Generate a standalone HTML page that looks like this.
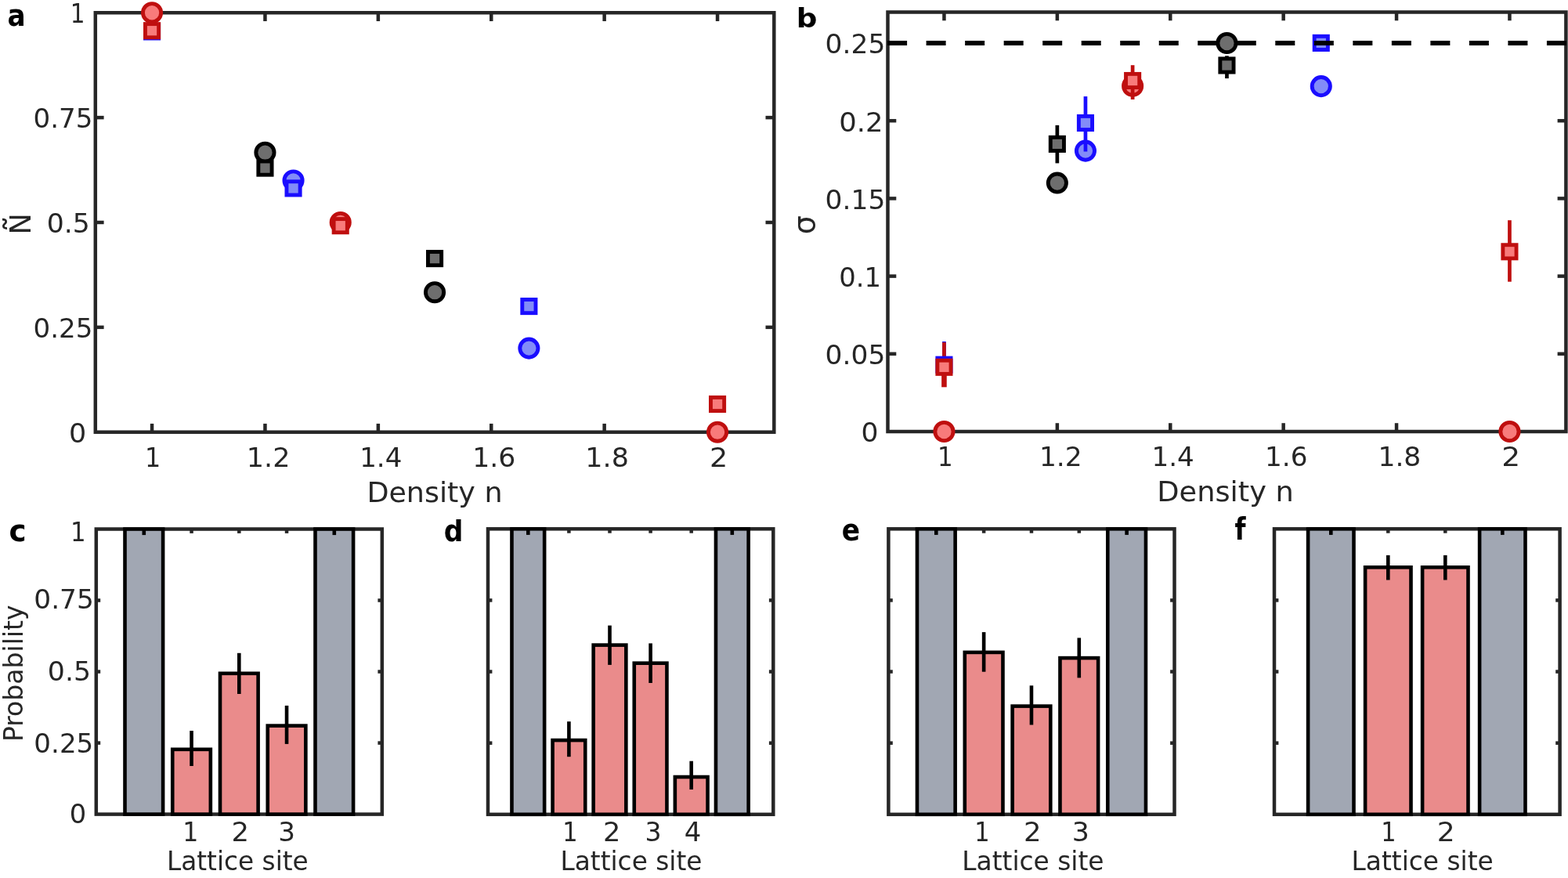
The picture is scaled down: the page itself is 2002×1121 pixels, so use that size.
<!DOCTYPE html>
<html><head><meta charset="utf-8"><title>Figure</title>
<style>html,body{margin:0;padding:0;background:#fff;}svg{display:block;}text{font-family:'DejaVu Sans','Liberation Sans',sans-serif;}</style>
</head><body>
<svg width="2002" height="1121" viewBox="0 0 2002 1121">
<rect width="2002" height="1121" fill="#fff"/>
<rect x="121.8" y="16.25" width="866.5" height="535.45" fill="none" stroke="#262626" stroke-width="4.5" stroke-linejoin="miter"/>
<line x1="194.05" y1="551.7" x2="194.05" y2="540.9" stroke="#262626" stroke-width="4.5" stroke-linecap="butt"/>
<line x1="194.05" y1="16.25" x2="194.05" y2="27.05" stroke="#262626" stroke-width="4.5" stroke-linecap="butt"/>
<line x1="338.45" y1="551.7" x2="338.45" y2="540.9" stroke="#262626" stroke-width="4.5" stroke-linecap="butt"/>
<line x1="338.45" y1="16.25" x2="338.45" y2="27.05" stroke="#262626" stroke-width="4.5" stroke-linecap="butt"/>
<line x1="482.85" y1="551.7" x2="482.85" y2="540.9" stroke="#262626" stroke-width="4.5" stroke-linecap="butt"/>
<line x1="482.85" y1="16.25" x2="482.85" y2="27.05" stroke="#262626" stroke-width="4.5" stroke-linecap="butt"/>
<line x1="627.25" y1="551.7" x2="627.25" y2="540.9" stroke="#262626" stroke-width="4.5" stroke-linecap="butt"/>
<line x1="627.25" y1="16.25" x2="627.25" y2="27.05" stroke="#262626" stroke-width="4.5" stroke-linecap="butt"/>
<line x1="771.65" y1="551.7" x2="771.65" y2="540.9" stroke="#262626" stroke-width="4.5" stroke-linecap="butt"/>
<line x1="771.65" y1="16.25" x2="771.65" y2="27.05" stroke="#262626" stroke-width="4.5" stroke-linecap="butt"/>
<line x1="916.05" y1="551.7" x2="916.05" y2="540.9" stroke="#262626" stroke-width="4.5" stroke-linecap="butt"/>
<line x1="916.05" y1="16.25" x2="916.05" y2="27.05" stroke="#262626" stroke-width="4.5" stroke-linecap="butt"/>
<line x1="121.8" y1="417.84" x2="132.6" y2="417.84" stroke="#262626" stroke-width="4.5" stroke-linecap="butt"/>
<line x1="988.3" y1="417.84" x2="977.5" y2="417.84" stroke="#262626" stroke-width="4.5" stroke-linecap="butt"/>
<line x1="121.8" y1="283.98" x2="132.6" y2="283.98" stroke="#262626" stroke-width="4.5" stroke-linecap="butt"/>
<line x1="988.3" y1="283.98" x2="977.5" y2="283.98" stroke="#262626" stroke-width="4.5" stroke-linecap="butt"/>
<line x1="121.8" y1="150.11" x2="132.6" y2="150.11" stroke="#262626" stroke-width="4.5" stroke-linecap="butt"/>
<line x1="988.3" y1="150.11" x2="977.5" y2="150.11" stroke="#262626" stroke-width="4.5" stroke-linecap="butt"/>
<text x="89.86" y="28.9" font-size="33" fill="#262626" textLength="18.76" lengthAdjust="spacingAndGlyphs">1</text>
<text x="42.62" y="163" font-size="33" fill="#262626" textLength="75.85" lengthAdjust="spacingAndGlyphs">0.75</text>
<text x="59.72" y="297.2" font-size="33" fill="#262626" textLength="55.11" lengthAdjust="spacingAndGlyphs">0.5</text>
<text x="42.62" y="430.9" font-size="33" fill="#262626" textLength="75.85" lengthAdjust="spacingAndGlyphs">0.25</text>
<text x="88" y="565" font-size="33" fill="#262626" textLength="22.22" lengthAdjust="spacingAndGlyphs">0</text>
<text x="184.91" y="595.5" font-size="33" fill="#262626" textLength="20.23" lengthAdjust="spacingAndGlyphs">1</text>
<text x="314.86" y="595.5" font-size="33" fill="#262626" textLength="55.65" lengthAdjust="spacingAndGlyphs">1.2</text>
<text x="459.16" y="595.5" font-size="33" fill="#262626" textLength="54.15" lengthAdjust="spacingAndGlyphs">1.4</text>
<text x="603.19" y="595.5" font-size="33" fill="#262626" textLength="55.09" lengthAdjust="spacingAndGlyphs">1.6</text>
<text x="747.36" y="595.5" font-size="33" fill="#262626" textLength="55.52" lengthAdjust="spacingAndGlyphs">1.8</text>
<text x="906.13" y="595.5" font-size="33" fill="#262626" textLength="23.23" lengthAdjust="spacingAndGlyphs">2</text>
<text x="468.42" y="641.2" font-size="36.3" fill="#262626" textLength="173.17" lengthAdjust="spacingAndGlyphs">Density n</text>
<text transform="translate(38.9,296) rotate(-90)" x="-3.59" y="0" font-size="36.6" fill="#262626">N<tspan x="21.39" y="-1.15" font-size="44">̃</tspan></text>
<circle cx="374.55" cy="230.43" r="11.6" fill="#828CF8" stroke="#1A0DFF" stroke-width="4.9"/>
<circle cx="675.38" cy="444.61" r="11.6" fill="#828CF8" stroke="#1A0DFF" stroke-width="4.9"/>
<rect x="185.45" y="31.8" width="17.2" height="17.2" fill="#828CF8" stroke="#1A0DFF" stroke-width="4.9"/>
<rect x="365.95" y="231.8" width="17.2" height="17.2" fill="#828CF8" stroke="#1A0DFF" stroke-width="4.9"/>
<rect x="666.78" y="382.47" width="17.2" height="17.2" fill="#828CF8" stroke="#1A0DFF" stroke-width="4.9"/>
<circle cx="338.45" cy="194.73" r="11.6" fill="#6E6E6E" stroke="#000000" stroke-width="4.9"/>
<circle cx="555.05" cy="373.22" r="11.6" fill="#6E6E6E" stroke="#000000" stroke-width="4.9"/>
<rect x="329.85" y="206" width="17.2" height="17.2" fill="#6E6E6E" stroke="#000000" stroke-width="4.9"/>
<rect x="546.45" y="321.5" width="17.2" height="17.2" fill="#6E6E6E" stroke="#000000" stroke-width="4.9"/>
<circle cx="194.05" cy="16.25" r="11.6" fill="#F87B7B" stroke="#BF0F0F" stroke-width="4.9"/>
<circle cx="434.72" cy="283.98" r="11.6" fill="#F87B7B" stroke="#BF0F0F" stroke-width="4.9"/>
<circle cx="916.05" cy="551.7" r="11.6" fill="#F87B7B" stroke="#BF0F0F" stroke-width="4.9"/>
<rect x="185.45" y="30.6" width="17.2" height="17.2" fill="#F87B7B" stroke="#BF0F0F" stroke-width="4.9"/>
<rect x="426.12" y="279.6" width="17.2" height="17.2" fill="#F87B7B" stroke="#BF0F0F" stroke-width="4.9"/>
<rect x="907.45" y="507.4" width="17.2" height="17.2" fill="#F87B7B" stroke="#BF0F0F" stroke-width="4.9"/>
<text x="9.42" y="32.96" font-size="38.49" fill="#000" textLength="23.18" lengthAdjust="spacingAndGlyphs" style="font-family:'DejaVu Sans','Liberation Sans',sans-serif;font-weight:bold">a</text>
<rect x="1133.5" y="15.5" width="865.9" height="535.5" fill="none" stroke="#262626" stroke-width="4.5" stroke-linejoin="miter"/>
<line x1="1205.45" y1="551" x2="1205.45" y2="540.2" stroke="#262626" stroke-width="4.5" stroke-linecap="butt"/>
<line x1="1205.45" y1="15.5" x2="1205.45" y2="26.3" stroke="#262626" stroke-width="4.5" stroke-linecap="butt"/>
<line x1="1349.85" y1="551" x2="1349.85" y2="540.2" stroke="#262626" stroke-width="4.5" stroke-linecap="butt"/>
<line x1="1349.85" y1="15.5" x2="1349.85" y2="26.3" stroke="#262626" stroke-width="4.5" stroke-linecap="butt"/>
<line x1="1494.25" y1="551" x2="1494.25" y2="540.2" stroke="#262626" stroke-width="4.5" stroke-linecap="butt"/>
<line x1="1494.25" y1="15.5" x2="1494.25" y2="26.3" stroke="#262626" stroke-width="4.5" stroke-linecap="butt"/>
<line x1="1638.65" y1="551" x2="1638.65" y2="540.2" stroke="#262626" stroke-width="4.5" stroke-linecap="butt"/>
<line x1="1638.65" y1="15.5" x2="1638.65" y2="26.3" stroke="#262626" stroke-width="4.5" stroke-linecap="butt"/>
<line x1="1783.05" y1="551" x2="1783.05" y2="540.2" stroke="#262626" stroke-width="4.5" stroke-linecap="butt"/>
<line x1="1783.05" y1="15.5" x2="1783.05" y2="26.3" stroke="#262626" stroke-width="4.5" stroke-linecap="butt"/>
<line x1="1927.45" y1="551" x2="1927.45" y2="540.2" stroke="#262626" stroke-width="4.5" stroke-linecap="butt"/>
<line x1="1927.45" y1="15.5" x2="1927.45" y2="26.3" stroke="#262626" stroke-width="4.5" stroke-linecap="butt"/>
<line x1="1133.5" y1="451.8" x2="1144.3" y2="451.8" stroke="#262626" stroke-width="4.5" stroke-linecap="butt"/>
<line x1="1999.4" y1="451.8" x2="1988.6" y2="451.8" stroke="#262626" stroke-width="4.5" stroke-linecap="butt"/>
<line x1="1133.5" y1="352.6" x2="1144.3" y2="352.6" stroke="#262626" stroke-width="4.5" stroke-linecap="butt"/>
<line x1="1999.4" y1="352.6" x2="1988.6" y2="352.6" stroke="#262626" stroke-width="4.5" stroke-linecap="butt"/>
<line x1="1133.5" y1="253.4" x2="1144.3" y2="253.4" stroke="#262626" stroke-width="4.5" stroke-linecap="butt"/>
<line x1="1999.4" y1="253.4" x2="1988.6" y2="253.4" stroke="#262626" stroke-width="4.5" stroke-linecap="butt"/>
<line x1="1133.5" y1="154.2" x2="1144.3" y2="154.2" stroke="#262626" stroke-width="4.5" stroke-linecap="butt"/>
<line x1="1999.4" y1="154.2" x2="1988.6" y2="154.2" stroke="#262626" stroke-width="4.5" stroke-linecap="butt"/>
<line x1="1133.5" y1="55" x2="1144.3" y2="55" stroke="#262626" stroke-width="4.5" stroke-linecap="butt"/>
<line x1="1999.4" y1="55" x2="1988.6" y2="55" stroke="#262626" stroke-width="4.5" stroke-linecap="butt"/>
<text x="1053.63" y="68.1" font-size="33" fill="#262626" textLength="76.68" lengthAdjust="spacingAndGlyphs">0.25</text>
<text x="1071.17" y="167.5" font-size="33" fill="#262626" textLength="56.27" lengthAdjust="spacingAndGlyphs">0.2</text>
<text x="1053.63" y="266.6" font-size="33" fill="#262626" textLength="76.68" lengthAdjust="spacingAndGlyphs">0.15</text>
<text x="1071.27" y="365.9" font-size="33" fill="#262626" textLength="53.75" lengthAdjust="spacingAndGlyphs">0.1</text>
<text x="1053.63" y="465" font-size="33" fill="#262626" textLength="76.68" lengthAdjust="spacingAndGlyphs">0.05</text>
<text x="1099.62" y="564" font-size="33" fill="#262626" textLength="21.97" lengthAdjust="spacingAndGlyphs">0</text>
<text x="1197.01" y="594.8" font-size="33" fill="#262626" textLength="19.64" lengthAdjust="spacingAndGlyphs">1</text>
<text x="1326.92" y="594.8" font-size="33" fill="#262626" textLength="54.72" lengthAdjust="spacingAndGlyphs">1.2</text>
<text x="1470.55" y="594.8" font-size="33" fill="#262626" textLength="54.26" lengthAdjust="spacingAndGlyphs">1.4</text>
<text x="1615.04" y="594.8" font-size="33" fill="#262626" textLength="54.41" lengthAdjust="spacingAndGlyphs">1.6</text>
<text x="1759.4" y="594.8" font-size="33" fill="#262626" textLength="54.96" lengthAdjust="spacingAndGlyphs">1.8</text>
<text x="1917.15" y="594.8" font-size="33" fill="#262626" textLength="23.92" lengthAdjust="spacingAndGlyphs">2</text>
<text x="1477.3" y="640.3" font-size="36.3" fill="#262626" textLength="174.52" lengthAdjust="spacingAndGlyphs">Density n</text>
<text transform="translate(1040.32,299.18) rotate(-90)" x="0" y="0" font-size="38" fill="#262626">σ</text>
<circle cx="1385.95" cy="192.6" r="11.6" fill="#828CF8" stroke="#1A0DFF" stroke-width="4.9"/>
<circle cx="1686.78" cy="110.1" r="11.6" fill="#828CF8" stroke="#1A0DFF" stroke-width="4.9"/>
<circle cx="1205.45" cy="551" r="11.6" fill="#F87B7B" stroke="#BF0F0F" stroke-width="4.9"/>
<circle cx="1446.12" cy="109.8" r="11.6" fill="#F87B7B" stroke="#BF0F0F" stroke-width="4.9"/>
<circle cx="1927.45" cy="551" r="11.6" fill="#F87B7B" stroke="#BF0F0F" stroke-width="4.9"/>
<line x1="1205.45" y1="436" x2="1205.45" y2="494" stroke="#1A0DFF" stroke-width="4.7" stroke-linecap="butt"/>
<line x1="1385.95" y1="123.1" x2="1385.95" y2="193.5" stroke="#1A0DFF" stroke-width="4.7" stroke-linecap="butt"/>
<line x1="1349.85" y1="159.9" x2="1349.85" y2="208.4" stroke="#000000" stroke-width="4.7" stroke-linecap="butt"/>
<line x1="1566.45" y1="71.3" x2="1566.45" y2="100.1" stroke="#000000" stroke-width="4.7" stroke-linecap="butt"/>
<line x1="1205.45" y1="437.1" x2="1205.45" y2="468.8" stroke="#BF0F0F" stroke-width="4.7" stroke-linecap="butt"/>
<line x1="1205.45" y1="468.8" x2="1205.45" y2="494.3" stroke="#BF0F0F" stroke-width="6.6" stroke-linecap="butt"/>
<line x1="1446.12" y1="83.2" x2="1446.12" y2="127" stroke="#BF0F0F" stroke-width="4.7" stroke-linecap="butt"/>
<line x1="1927.45" y1="281.2" x2="1927.45" y2="359.7" stroke="#BF0F0F" stroke-width="4.7" stroke-linecap="butt"/>
<rect x="1196.85" y="457.1" width="17.2" height="17.2" fill="#828CF8" stroke="#1A0DFF" stroke-width="4.9"/>
<rect x="1377.35" y="148.4" width="17.2" height="17.2" fill="#828CF8" stroke="#1A0DFF" stroke-width="4.9"/>
<rect x="1678.18" y="46.3" width="17.2" height="17.2" fill="#828CF8" stroke="#1A0DFF" stroke-width="4.9"/>
<line x1="1133.1" y1="55" x2="1999.8" y2="55" stroke="#000" stroke-width="6" stroke-dasharray="25 24.52"/>
<circle cx="1349.85" cy="233.56" r="11.6" fill="#6E6E6E" stroke="#000000" stroke-width="4.9"/>
<circle cx="1566.45" cy="55" r="11.6" fill="#6E6E6E" stroke="#000000" stroke-width="4.9"/>
<rect x="1341.25" y="175.3" width="17.2" height="17.2" fill="#6E6E6E" stroke="#000000" stroke-width="4.9"/>
<rect x="1557.85" y="74.9" width="17.2" height="17.2" fill="#6E6E6E" stroke="#000000" stroke-width="4.9"/>
<rect x="1196.85" y="460.2" width="17.2" height="17.2" fill="#F87B7B" stroke="#BF0F0F" stroke-width="4.9"/>
<rect x="1437.52" y="94.4" width="17.2" height="17.2" fill="#F87B7B" stroke="#BF0F0F" stroke-width="4.9"/>
<rect x="1918.85" y="312.7" width="17.2" height="17.2" fill="#F87B7B" stroke="#BF0F0F" stroke-width="4.9"/>
<text x="1016.87" y="35.21" font-size="34.37" fill="#000" textLength="26.71" lengthAdjust="spacingAndGlyphs" style="font-family:'DejaVu Sans','Liberation Sans',sans-serif;font-weight:bold">b</text>
<rect x="122.8" y="675.5" width="365" height="364.1" fill="none" stroke="#262626" stroke-width="4.5" stroke-linejoin="miter"/>
<line x1="122.8" y1="948.57" x2="128.2" y2="948.57" stroke="#262626" stroke-width="4.5" stroke-linecap="butt"/>
<line x1="487.8" y1="948.57" x2="482.4" y2="948.57" stroke="#262626" stroke-width="4.5" stroke-linecap="butt"/>
<line x1="122.8" y1="857.55" x2="128.2" y2="857.55" stroke="#262626" stroke-width="4.5" stroke-linecap="butt"/>
<line x1="487.8" y1="857.55" x2="482.4" y2="857.55" stroke="#262626" stroke-width="4.5" stroke-linecap="butt"/>
<line x1="122.8" y1="766.52" x2="128.2" y2="766.52" stroke="#262626" stroke-width="4.5" stroke-linecap="butt"/>
<line x1="487.8" y1="766.52" x2="482.4" y2="766.52" stroke="#262626" stroke-width="4.5" stroke-linecap="butt"/>
<line x1="183.8" y1="675.5" x2="183.8" y2="680.9" stroke="#262626" stroke-width="4.5" stroke-linecap="butt"/>
<line x1="183.8" y1="1039.6" x2="183.8" y2="1034.2" stroke="#262626" stroke-width="4.5" stroke-linecap="butt"/>
<line x1="244.55" y1="675.5" x2="244.55" y2="680.9" stroke="#262626" stroke-width="4.5" stroke-linecap="butt"/>
<line x1="244.55" y1="1039.6" x2="244.55" y2="1034.2" stroke="#262626" stroke-width="4.5" stroke-linecap="butt"/>
<line x1="305.3" y1="675.5" x2="305.3" y2="680.9" stroke="#262626" stroke-width="4.5" stroke-linecap="butt"/>
<line x1="305.3" y1="1039.6" x2="305.3" y2="1034.2" stroke="#262626" stroke-width="4.5" stroke-linecap="butt"/>
<line x1="366.05" y1="675.5" x2="366.05" y2="680.9" stroke="#262626" stroke-width="4.5" stroke-linecap="butt"/>
<line x1="366.05" y1="1039.6" x2="366.05" y2="1034.2" stroke="#262626" stroke-width="4.5" stroke-linecap="butt"/>
<line x1="426.8" y1="675.5" x2="426.8" y2="680.9" stroke="#262626" stroke-width="4.5" stroke-linecap="butt"/>
<line x1="426.8" y1="1039.6" x2="426.8" y2="1034.2" stroke="#262626" stroke-width="4.5" stroke-linecap="butt"/>
<rect x="159.5" y="675.5" width="48.6" height="364.1" fill="#A1A7B3" stroke="#000" stroke-width="4.6"/>
<rect x="220.25" y="956.8" width="48.6" height="82.8" fill="#EA8B8B" stroke="#000" stroke-width="4.6"/>
<rect x="281" y="859.8" width="48.6" height="179.8" fill="#EA8B8B" stroke="#000" stroke-width="4.6"/>
<rect x="341.75" y="926.6" width="48.6" height="113" fill="#EA8B8B" stroke="#000" stroke-width="4.6"/>
<rect x="402.5" y="675.5" width="48.6" height="364.1" fill="#A1A7B3" stroke="#000" stroke-width="4.6"/>
<line x1="183.8" y1="675.5" x2="183.8" y2="683.1" stroke="#000" stroke-width="4.6" stroke-linecap="butt"/>
<line x1="426.8" y1="675.5" x2="426.8" y2="683.1" stroke="#000" stroke-width="4.6" stroke-linecap="butt"/>
<line x1="244.55" y1="933" x2="244.55" y2="978" stroke="#000" stroke-width="4.6" stroke-linecap="butt"/>
<line x1="305.3" y1="833.8" x2="305.3" y2="886" stroke="#000" stroke-width="4.6" stroke-linecap="butt"/>
<line x1="366.05" y1="900.9" x2="366.05" y2="949.9" stroke="#000" stroke-width="4.6" stroke-linecap="butt"/>
<text x="233.33" y="1074" font-size="33" fill="#262626" textLength="20.08" lengthAdjust="spacingAndGlyphs">1</text>
<text x="295.41" y="1074" font-size="33" fill="#262626" textLength="22.54" lengthAdjust="spacingAndGlyphs">2</text>
<text x="355.3" y="1074" font-size="33" fill="#262626" textLength="21.74" lengthAdjust="spacingAndGlyphs">3</text>
<text x="212.99" y="1111.2" font-size="32.8" fill="#262626" textLength="180.76" lengthAdjust="spacingAndGlyphs">Lattice site</text>
<text x="90.11" y="690.9" font-size="33" fill="#262626" textLength="19.64" lengthAdjust="spacingAndGlyphs">1</text>
<text x="43.34" y="777.4" font-size="33" fill="#262626" textLength="76.47" lengthAdjust="spacingAndGlyphs">0.75</text>
<text x="60.81" y="868.7" font-size="33" fill="#262626" textLength="55.22" lengthAdjust="spacingAndGlyphs">0.5</text>
<text x="43.35" y="960.5" font-size="33" fill="#262626" textLength="75.93" lengthAdjust="spacingAndGlyphs">0.25</text>
<text x="88.68" y="1051.4" font-size="33" fill="#262626" textLength="21.46" lengthAdjust="spacingAndGlyphs">0</text>
<text transform="translate(28.7,943.9) rotate(-90)" x="-3.22" y="0" font-size="32.8" fill="#262626" textLength="174.7" lengthAdjust="spacingAndGlyphs">Probability</text>
<text x="11.6" y="690.85" font-size="38.66" fill="#000" textLength="22.1" lengthAdjust="spacingAndGlyphs" style="font-family:'DejaVu Sans','Liberation Sans',sans-serif;font-weight:bold">c</text>
<rect x="623" y="675.3" width="364.3" height="364.5" fill="none" stroke="#262626" stroke-width="4.5" stroke-linejoin="miter"/>
<line x1="623" y1="948.67" x2="628.4" y2="948.67" stroke="#262626" stroke-width="4.5" stroke-linecap="butt"/>
<line x1="987.3" y1="948.67" x2="981.9" y2="948.67" stroke="#262626" stroke-width="4.5" stroke-linecap="butt"/>
<line x1="623" y1="857.55" x2="628.4" y2="857.55" stroke="#262626" stroke-width="4.5" stroke-linecap="butt"/>
<line x1="987.3" y1="857.55" x2="981.9" y2="857.55" stroke="#262626" stroke-width="4.5" stroke-linecap="butt"/>
<line x1="623" y1="766.42" x2="628.4" y2="766.42" stroke="#262626" stroke-width="4.5" stroke-linecap="butt"/>
<line x1="987.3" y1="766.42" x2="981.9" y2="766.42" stroke="#262626" stroke-width="4.5" stroke-linecap="butt"/>
<line x1="674.3" y1="675.3" x2="674.3" y2="680.7" stroke="#262626" stroke-width="4.5" stroke-linecap="butt"/>
<line x1="674.3" y1="1039.8" x2="674.3" y2="1034.4" stroke="#262626" stroke-width="4.5" stroke-linecap="butt"/>
<line x1="726.4" y1="675.3" x2="726.4" y2="680.7" stroke="#262626" stroke-width="4.5" stroke-linecap="butt"/>
<line x1="726.4" y1="1039.8" x2="726.4" y2="1034.4" stroke="#262626" stroke-width="4.5" stroke-linecap="butt"/>
<line x1="778.5" y1="675.3" x2="778.5" y2="680.7" stroke="#262626" stroke-width="4.5" stroke-linecap="butt"/>
<line x1="778.5" y1="1039.8" x2="778.5" y2="1034.4" stroke="#262626" stroke-width="4.5" stroke-linecap="butt"/>
<line x1="830.6" y1="675.3" x2="830.6" y2="680.7" stroke="#262626" stroke-width="4.5" stroke-linecap="butt"/>
<line x1="830.6" y1="1039.8" x2="830.6" y2="1034.4" stroke="#262626" stroke-width="4.5" stroke-linecap="butt"/>
<line x1="882.7" y1="675.3" x2="882.7" y2="680.7" stroke="#262626" stroke-width="4.5" stroke-linecap="butt"/>
<line x1="882.7" y1="1039.8" x2="882.7" y2="1034.4" stroke="#262626" stroke-width="4.5" stroke-linecap="butt"/>
<line x1="934.8" y1="675.3" x2="934.8" y2="680.7" stroke="#262626" stroke-width="4.5" stroke-linecap="butt"/>
<line x1="934.8" y1="1039.8" x2="934.8" y2="1034.4" stroke="#262626" stroke-width="4.5" stroke-linecap="butt"/>
<rect x="653.46" y="675.3" width="41.68" height="364.5" fill="#A1A7B3" stroke="#000" stroke-width="4.6"/>
<rect x="705.56" y="945.1" width="41.68" height="94.7" fill="#EA8B8B" stroke="#000" stroke-width="4.6"/>
<rect x="757.66" y="823.6" width="41.68" height="216.2" fill="#EA8B8B" stroke="#000" stroke-width="4.6"/>
<rect x="809.76" y="846.7" width="41.68" height="193.1" fill="#EA8B8B" stroke="#000" stroke-width="4.6"/>
<rect x="861.86" y="992" width="41.68" height="47.8" fill="#EA8B8B" stroke="#000" stroke-width="4.6"/>
<rect x="913.96" y="675.3" width="41.68" height="364.5" fill="#A1A7B3" stroke="#000" stroke-width="4.6"/>
<line x1="674.3" y1="675.3" x2="674.3" y2="682.9" stroke="#000" stroke-width="4.6" stroke-linecap="butt"/>
<line x1="934.8" y1="675.3" x2="934.8" y2="682.9" stroke="#000" stroke-width="4.6" stroke-linecap="butt"/>
<line x1="726.4" y1="921.2" x2="726.4" y2="966.2" stroke="#000" stroke-width="4.6" stroke-linecap="butt"/>
<line x1="778.5" y1="798.6" x2="778.5" y2="848.9" stroke="#000" stroke-width="4.6" stroke-linecap="butt"/>
<line x1="830.6" y1="821.4" x2="830.6" y2="872" stroke="#000" stroke-width="4.6" stroke-linecap="butt"/>
<line x1="882.7" y1="971.7" x2="882.7" y2="1008" stroke="#000" stroke-width="4.6" stroke-linecap="butt"/>
<text x="718.16" y="1073.9" font-size="33" fill="#262626" textLength="19.35" lengthAdjust="spacingAndGlyphs">1</text>
<text x="770.12" y="1073.9" font-size="33" fill="#262626" textLength="22.4" lengthAdjust="spacingAndGlyphs">2</text>
<text x="823.38" y="1073.9" font-size="33" fill="#262626" textLength="21.08" lengthAdjust="spacingAndGlyphs">3</text>
<text x="873.75" y="1073.9" font-size="33" fill="#262626" textLength="21.56" lengthAdjust="spacingAndGlyphs">4</text>
<text x="715.48" y="1111.2" font-size="32.8" fill="#262626" textLength="180.96" lengthAdjust="spacingAndGlyphs">Lattice site</text>
<text x="566.85" y="691.27" font-size="37.6" fill="#000" textLength="24.64" lengthAdjust="spacingAndGlyphs" style="font-family:'DejaVu Sans','Liberation Sans',sans-serif;font-weight:bold">d</text>
<rect x="1134.4" y="675.3" width="365.1" height="364.5" fill="none" stroke="#262626" stroke-width="4.5" stroke-linejoin="miter"/>
<line x1="1134.4" y1="948.67" x2="1139.8" y2="948.67" stroke="#262626" stroke-width="4.5" stroke-linecap="butt"/>
<line x1="1499.5" y1="948.67" x2="1494.1" y2="948.67" stroke="#262626" stroke-width="4.5" stroke-linecap="butt"/>
<line x1="1134.4" y1="857.55" x2="1139.8" y2="857.55" stroke="#262626" stroke-width="4.5" stroke-linecap="butt"/>
<line x1="1499.5" y1="857.55" x2="1494.1" y2="857.55" stroke="#262626" stroke-width="4.5" stroke-linecap="butt"/>
<line x1="1134.4" y1="766.42" x2="1139.8" y2="766.42" stroke="#262626" stroke-width="4.5" stroke-linecap="butt"/>
<line x1="1499.5" y1="766.42" x2="1494.1" y2="766.42" stroke="#262626" stroke-width="4.5" stroke-linecap="butt"/>
<line x1="1195.3" y1="675.3" x2="1195.3" y2="680.7" stroke="#262626" stroke-width="4.5" stroke-linecap="butt"/>
<line x1="1195.3" y1="1039.8" x2="1195.3" y2="1034.4" stroke="#262626" stroke-width="4.5" stroke-linecap="butt"/>
<line x1="1256.13" y1="675.3" x2="1256.13" y2="680.7" stroke="#262626" stroke-width="4.5" stroke-linecap="butt"/>
<line x1="1256.13" y1="1039.8" x2="1256.13" y2="1034.4" stroke="#262626" stroke-width="4.5" stroke-linecap="butt"/>
<line x1="1316.96" y1="675.3" x2="1316.96" y2="680.7" stroke="#262626" stroke-width="4.5" stroke-linecap="butt"/>
<line x1="1316.96" y1="1039.8" x2="1316.96" y2="1034.4" stroke="#262626" stroke-width="4.5" stroke-linecap="butt"/>
<line x1="1377.79" y1="675.3" x2="1377.79" y2="680.7" stroke="#262626" stroke-width="4.5" stroke-linecap="butt"/>
<line x1="1377.79" y1="1039.8" x2="1377.79" y2="1034.4" stroke="#262626" stroke-width="4.5" stroke-linecap="butt"/>
<line x1="1438.62" y1="675.3" x2="1438.62" y2="680.7" stroke="#262626" stroke-width="4.5" stroke-linecap="butt"/>
<line x1="1438.62" y1="1039.8" x2="1438.62" y2="1034.4" stroke="#262626" stroke-width="4.5" stroke-linecap="butt"/>
<rect x="1170.97" y="675.3" width="48.66" height="364.5" fill="#A1A7B3" stroke="#000" stroke-width="4.6"/>
<rect x="1231.8" y="832.9" width="48.66" height="206.9" fill="#EA8B8B" stroke="#000" stroke-width="4.6"/>
<rect x="1292.63" y="901.6" width="48.66" height="138.2" fill="#EA8B8B" stroke="#000" stroke-width="4.6"/>
<rect x="1353.46" y="840.1" width="48.66" height="199.7" fill="#EA8B8B" stroke="#000" stroke-width="4.6"/>
<rect x="1414.29" y="675.3" width="48.66" height="364.5" fill="#A1A7B3" stroke="#000" stroke-width="4.6"/>
<line x1="1195.3" y1="675.3" x2="1195.3" y2="682.9" stroke="#000" stroke-width="4.6" stroke-linecap="butt"/>
<line x1="1438.62" y1="675.3" x2="1438.62" y2="682.9" stroke="#000" stroke-width="4.6" stroke-linecap="butt"/>
<line x1="1256.13" y1="807.1" x2="1256.13" y2="857.7" stroke="#000" stroke-width="4.6" stroke-linecap="butt"/>
<line x1="1316.96" y1="875.3" x2="1316.96" y2="925.5" stroke="#000" stroke-width="4.6" stroke-linecap="butt"/>
<line x1="1377.79" y1="814.4" x2="1377.79" y2="865.4" stroke="#000" stroke-width="4.6" stroke-linecap="butt"/>
<text x="1244.26" y="1073.5" font-size="33" fill="#262626" textLength="19.35" lengthAdjust="spacingAndGlyphs">1</text>
<text x="1307.01" y="1073.5" font-size="33" fill="#262626" textLength="22.54" lengthAdjust="spacingAndGlyphs">2</text>
<text x="1368.85" y="1073.5" font-size="33" fill="#262626" textLength="22.14" lengthAdjust="spacingAndGlyphs">3</text>
<text x="1228.28" y="1111.2" font-size="32.8" fill="#262626" textLength="181.27" lengthAdjust="spacingAndGlyphs">Lattice site</text>
<text x="1074.72" y="690.16" font-size="38.31" fill="#000" textLength="23.34" lengthAdjust="spacingAndGlyphs" style="font-family:'DejaVu Sans','Liberation Sans',sans-serif;font-weight:bold">e</text>
<rect x="1627" y="675.3" width="364.6" height="364.5" fill="none" stroke="#262626" stroke-width="4.5" stroke-linejoin="miter"/>
<line x1="1627" y1="948.67" x2="1632.4" y2="948.67" stroke="#262626" stroke-width="4.5" stroke-linecap="butt"/>
<line x1="1991.6" y1="948.67" x2="1986.2" y2="948.67" stroke="#262626" stroke-width="4.5" stroke-linecap="butt"/>
<line x1="1627" y1="857.55" x2="1632.4" y2="857.55" stroke="#262626" stroke-width="4.5" stroke-linecap="butt"/>
<line x1="1991.6" y1="857.55" x2="1986.2" y2="857.55" stroke="#262626" stroke-width="4.5" stroke-linecap="butt"/>
<line x1="1627" y1="766.42" x2="1632.4" y2="766.42" stroke="#262626" stroke-width="4.5" stroke-linecap="butt"/>
<line x1="1991.6" y1="766.42" x2="1986.2" y2="766.42" stroke="#262626" stroke-width="4.5" stroke-linecap="butt"/>
<line x1="1699.3" y1="675.3" x2="1699.3" y2="680.7" stroke="#262626" stroke-width="4.5" stroke-linecap="butt"/>
<line x1="1699.3" y1="1039.8" x2="1699.3" y2="1034.4" stroke="#262626" stroke-width="4.5" stroke-linecap="butt"/>
<line x1="1772.3" y1="675.3" x2="1772.3" y2="680.7" stroke="#262626" stroke-width="4.5" stroke-linecap="butt"/>
<line x1="1772.3" y1="1039.8" x2="1772.3" y2="1034.4" stroke="#262626" stroke-width="4.5" stroke-linecap="butt"/>
<line x1="1845.3" y1="675.3" x2="1845.3" y2="680.7" stroke="#262626" stroke-width="4.5" stroke-linecap="butt"/>
<line x1="1845.3" y1="1039.8" x2="1845.3" y2="1034.4" stroke="#262626" stroke-width="4.5" stroke-linecap="butt"/>
<line x1="1918.3" y1="675.3" x2="1918.3" y2="680.7" stroke="#262626" stroke-width="4.5" stroke-linecap="butt"/>
<line x1="1918.3" y1="1039.8" x2="1918.3" y2="1034.4" stroke="#262626" stroke-width="4.5" stroke-linecap="butt"/>
<rect x="1670.1" y="675.3" width="58.4" height="364.5" fill="#A1A7B3" stroke="#000" stroke-width="4.6"/>
<rect x="1743.1" y="724.3" width="58.4" height="315.5" fill="#EA8B8B" stroke="#000" stroke-width="4.6"/>
<rect x="1816.1" y="724.3" width="58.4" height="315.5" fill="#EA8B8B" stroke="#000" stroke-width="4.6"/>
<rect x="1889.1" y="675.3" width="58.4" height="364.5" fill="#A1A7B3" stroke="#000" stroke-width="4.6"/>
<line x1="1699.3" y1="675.3" x2="1699.3" y2="682.9" stroke="#000" stroke-width="4.6" stroke-linecap="butt"/>
<line x1="1918.3" y1="675.3" x2="1918.3" y2="682.9" stroke="#000" stroke-width="4.6" stroke-linecap="butt"/>
<line x1="1772.3" y1="708.9" x2="1772.3" y2="740.5" stroke="#000" stroke-width="4.6" stroke-linecap="butt"/>
<line x1="1845.3" y1="708.9" x2="1845.3" y2="740.5" stroke="#000" stroke-width="4.6" stroke-linecap="butt"/>
<text x="1763.26" y="1073.5" font-size="33" fill="#262626" textLength="19.35" lengthAdjust="spacingAndGlyphs">1</text>
<text x="1834.76" y="1073.5" font-size="33" fill="#262626" textLength="22.95" lengthAdjust="spacingAndGlyphs">2</text>
<text x="1725.58" y="1111.2" font-size="32.8" fill="#262626" textLength="181.17" lengthAdjust="spacingAndGlyphs">Lattice site</text>
<text x="1576.49" y="689.1" font-size="38.43" fill="#000" textLength="14.03" lengthAdjust="spacingAndGlyphs" style="font-family:'DejaVu Sans','Liberation Sans',sans-serif;font-weight:bold">f</text>
</svg>
</body></html>
